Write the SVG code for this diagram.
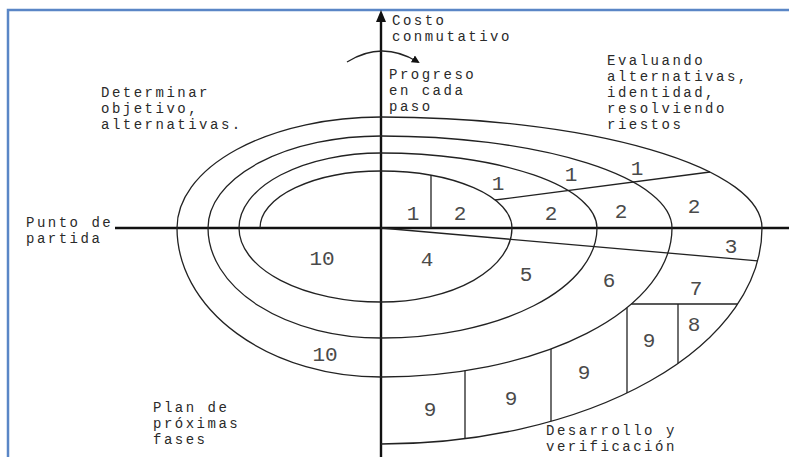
<svg xmlns="http://www.w3.org/2000/svg" width="789" height="457" viewBox="0 0 789 457">
<defs>
<marker id="ah" markerWidth="8" markerHeight="8" refX="6" refY="4" orient="auto" markerUnits="userSpaceOnUse">
<path d="M0,0 L8,4 L0,8 Z" fill="#111"/>
</marker>
<style>
.frame{fill:none;stroke:#5a86c6;stroke-width:2.5}
.axis{fill:none;stroke:#111;stroke-width:2.4}
.curve{fill:none;stroke:#222;stroke-width:1.3}
.lbl{font-family:"Liberation Mono","DejaVu Sans Mono",monospace;font-size:14px;letter-spacing:2.5px;fill:#2a2a2a}
.num{font-family:"Liberation Mono","DejaVu Sans Mono",monospace;font-size:21px;fill:#4a4a4a;text-anchor:middle}
</style>
</defs>
<rect width="789" height="457" fill="#fff"/>
<path class="frame" d="M8,457 L8,10 L789,10"/>

<g id="connectors">
<path class="axis" d="M115,228 L789,228"/>
<path class="axis" d="M381,457 L381,20"/>
<path d="M381,10 L376,22 L386,22 Z" fill="#111"/>
<path class="curve" d="M347,62 Q382,40 418,62" marker-end="url(#ah)" stroke-width="1.4"/>
</g>

<g id="spiral">
<path class="curve" d="M260,228 A121,57 0 0 1 381,171 A131,57 0 0 1 512,228 A131,74 0 0 1 381,302 A142,74 0 0 1 239,228 A142,75 0 0 1 381,153 A216,75 0 0 1 597,228 A216,110 0 0 1 381,338 A173,110 0 0 1 208,228 A173,92 0 0 1 381,136 A291,92 0 0 1 672,228 A291,149 0 0 1 381,377 A204,149 0 0 1 177,228 A204,111 0 0 1 381,117 A381,111 0 0 1 762,228 A381,216 0 0 1 381,444"/>
</g>

<g id="dividers">
<path class="curve" d="M431,175 L431,228"/>
<path class="curve" d="M495,200 L710,172"/>
<path class="curve" d="M381,228 L757.6,260.8"/>
<path class="curve" d="M631.4,304 L737.6,304"/>
<path class="curve" d="M678,304 L678,363.3"/>
<path class="curve" d="M627,307.7 L627,392.9"/>
<path class="curve" d="M551,349 L551,421.3"/>
<path class="curve" d="M465,370.6 L465,438.7"/>
</g>

<g id="cell-numbers">
<text class="num" x="413" y="220">1</text>
<text class="num" x="460" y="220">2</text>
<text class="num" x="498" y="190">1</text>
<text class="num" x="571" y="181">1</text>
<text class="num" x="637" y="175">1</text>
<text class="num" x="551" y="220">2</text>
<text class="num" x="621" y="218">2</text>
<text class="num" x="694" y="213">2</text>
<text class="num" x="731" y="253">3</text>
<text class="num" x="427" y="266">4</text>
<text class="num" x="526" y="281">5</text>
<text class="num" x="609" y="287">6</text>
<text class="num" x="696" y="295">7</text>
<text class="num" x="694" y="331">8</text>
<text class="num" x="649" y="347">9</text>
<text class="num" x="584" y="379">9</text>
<text class="num" x="511" y="405">9</text>
<text class="num" x="430" y="416">9</text>
<text class="num" x="322" y="265">10</text>
<text class="num" x="325" y="361">10</text>
</g>

<g id="label-costo">
<text class="lbl" x="392" y="25">Costo</text>
<text class="lbl" x="392" y="41">conmutativo</text>
</g>
<g id="label-progreso">
<text class="lbl" x="389" y="79">Progreso</text>
<text class="lbl" x="389" y="95">en cada</text>
<text class="lbl" x="389" y="111">paso</text>
</g>
<g id="label-evaluando">
<text class="lbl" x="607" y="65">Evaluando</text>
<text class="lbl" x="607" y="81">alternativas,</text>
<text class="lbl" x="607" y="97">identidad,</text>
<text class="lbl" x="607" y="113">resolviendo</text>
<text class="lbl" x="607" y="129">riestos</text>
</g>
<g id="label-determinar">
<text class="lbl" x="101" y="97">Determinar</text>
<text class="lbl" x="101" y="113">objetivo,</text>
<text class="lbl" x="101" y="129">alternativas.</text>
</g>
<g id="label-punto">
<text class="lbl" x="26" y="227">Punto de</text>
<text class="lbl" x="26" y="243">partida</text>
</g>
<g id="label-plan">
<text class="lbl" x="153" y="412">Plan de</text>
<text class="lbl" x="153" y="428">próximas</text>
<text class="lbl" x="153" y="444">fases</text>
</g>
<g id="label-desarrollo">
<text class="lbl" x="546" y="435">Desarrollo y</text>
<text class="lbl" x="546" y="451">verificación</text>
</g>
</svg>
